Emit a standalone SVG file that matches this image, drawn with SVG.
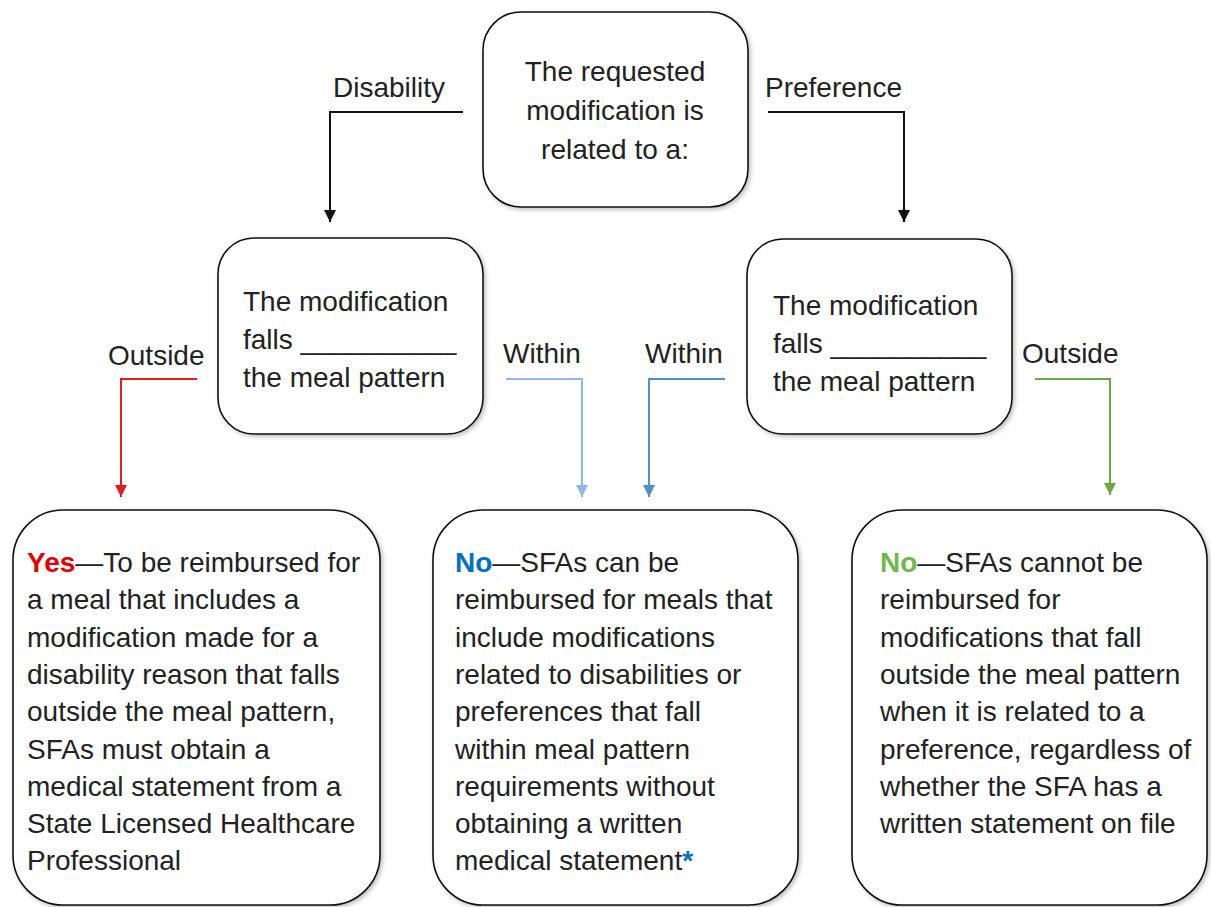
<svg xmlns="http://www.w3.org/2000/svg" width="1211" height="907" viewBox="0 0 1211 907">
<style>
text{font-family:"Liberation Sans",Arial,sans-serif;font-size:28px;fill:#222}
.box{fill:#fff;stroke:#111;stroke-width:1.6;filter:url(#sh)}
.c{fill:none;stroke-width:2}
</style>
<defs>
<filter id="sh" x="-10%" y="-10%" width="125%" height="125%"><feDropShadow dx="2" dy="2" stdDeviation="2" flood-color="#000" flood-opacity="0.25"/></filter>
<marker id="ak" markerUnits="userSpaceOnUse" markerWidth="12" markerHeight="12" refX="10" refY="5" orient="auto" viewBox="0 0 10 10"><path d="M0,0L10,5L0,10z" fill="#111"/></marker>
<marker id="ar" markerUnits="userSpaceOnUse" markerWidth="12" markerHeight="12" refX="10" refY="5" orient="auto" viewBox="0 0 10 10"><path d="M0,0L10,5L0,10z" fill="#e02020"/></marker>
<marker id="al" markerUnits="userSpaceOnUse" markerWidth="12" markerHeight="12" refX="10" refY="5" orient="auto" viewBox="0 0 10 10"><path d="M0,0L10,5L0,10z" fill="#8fb9e3"/></marker>
<marker id="ab" markerUnits="userSpaceOnUse" markerWidth="12" markerHeight="12" refX="10" refY="5" orient="auto" viewBox="0 0 10 10"><path d="M0,0L10,5L0,10z" fill="#4f8fd0"/></marker>
<marker id="ag" markerUnits="userSpaceOnUse" markerWidth="12" markerHeight="12" refX="10" refY="5" orient="auto" viewBox="0 0 10 10"><path d="M0,0L10,5L0,10z" fill="#6aaa45"/></marker>
</defs>
<g id="connectors">
<path class="c" d="M463,112H330V222" stroke="#111" stroke-width="1.6" marker-end="url(#ak)"/>
<path class="c" d="M768,112H904V222" stroke="#111" stroke-width="1.6" marker-end="url(#ak)"/>
<path class="c" d="M197,379H121V497" stroke="#e02020" marker-end="url(#ar)"/>
<path class="c" d="M506,379H582V497" stroke="#8fb9e3" marker-end="url(#al)"/>
<path class="c" d="M725,379H649V497" stroke="#4f8fd0" marker-end="url(#ab)"/>
<path class="c" d="M1035,379H1110V495" stroke="#6aaa45" marker-end="url(#ag)"/>
<text x="333" y="97">Disability</text>
<text x="765" y="97">Preference</text>
<text x="108" y="365">Outside</text>
<text x="503" y="363">Within</text>
<text x="645" y="363">Within</text>
<text x="1022" y="363">Outside</text>
</g>
<g id="top">
<rect class="box" x="483" y="12" width="265" height="195" rx="38"/>
<text text-anchor="middle"><tspan x="615" y="81">The requested</tspan><tspan x="615" y="120">modification is</tspan><tspan x="615" y="159">related to a:</tspan></text>
</g>
<g id="mid-left">
<rect class="box" x="218" y="238" width="265" height="196" rx="36"/>
<text><tspan x="243" y="311">The modification</tspan><tspan x="243" y="349">falls __________</tspan><tspan x="243" y="387">the meal pattern</tspan></text>
</g>
<g id="mid-right">
<rect class="box" x="747" y="239" width="265" height="195" rx="36"/>
<text><tspan x="773" y="315">The modification</tspan><tspan x="773" y="353">falls __________</tspan><tspan x="773" y="391">the meal pattern</tspan></text>
</g>
<g id="yes">
<rect class="box" x="13" y="510" width="367" height="395" rx="50"/>
<text><tspan x="27" y="572"><tspan font-weight="bold" fill="#e00000">Yes</tspan>—To be reimbursed for</tspan><tspan x="27" y="609.3">a meal that includes a</tspan><tspan x="27" y="646.6">modification made for a</tspan><tspan x="27" y="683.9">disability reason that falls</tspan><tspan x="27" y="721.2">outside the meal pattern,</tspan><tspan x="27" y="758.5">SFAs must obtain a</tspan><tspan x="27" y="795.8">medical statement from a</tspan><tspan x="27" y="833.1">State Licensed Healthcare</tspan><tspan x="27" y="870.4">Professional</tspan></text>
</g>
<g id="no-within">
<rect class="box" x="433" y="510" width="365" height="395" rx="50"/>
<text><tspan x="455" y="572"><tspan font-weight="bold" fill="#0070c0">No</tspan>—SFAs can be</tspan><tspan x="455" y="609.3">reimbursed for meals that</tspan><tspan x="455" y="646.6">include modifications</tspan><tspan x="455" y="683.9">related to disabilities or</tspan><tspan x="455" y="721.2">preferences that fall</tspan><tspan x="455" y="758.5">within meal pattern</tspan><tspan x="455" y="795.8">requirements without</tspan><tspan x="455" y="833.1">obtaining a written</tspan><tspan x="455" y="870.4">medical statement<tspan font-weight="bold" fill="#0070c0">*</tspan></tspan></text>
</g>
<g id="no-outside">
<rect class="box" x="852" y="510" width="355" height="395" rx="50"/>
<text><tspan x="880" y="572"><tspan font-weight="bold" fill="#70b84a">No</tspan>—SFAs cannot be</tspan><tspan x="880" y="609.3">reimbursed for</tspan><tspan x="880" y="646.6">modifications that fall</tspan><tspan x="880" y="683.9">outside the meal pattern</tspan><tspan x="880" y="721.2">when it is related to a</tspan><tspan x="880" y="758.5">preference, regardless of</tspan><tspan x="880" y="795.8">whether the SFA has a</tspan><tspan x="880" y="833.1">written statement on file</tspan></text>
</g>
</svg>
